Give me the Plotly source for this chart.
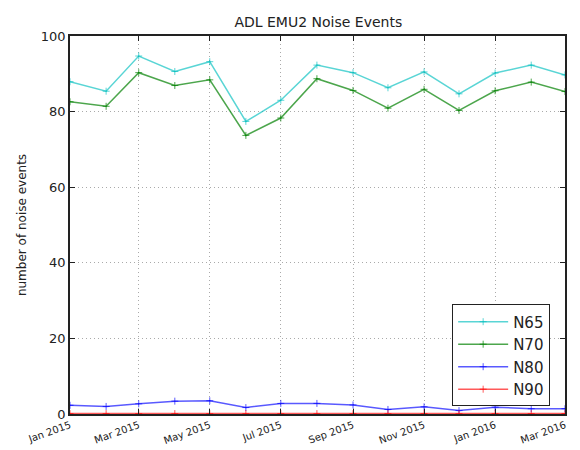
''' ADL EMU2 noise events per month '''
import plotly.graph_objects as go

#----- Data -----#

months = [
    '2015-01-01', '2015-02-01', '2015-03-01', '2015-04-01', '2015-05-01',
    '2015-06-01', '2015-07-01', '2015-08-01', '2015-09-01', '2015-10-01',
    '2015-11-01', '2015-12-01', '2016-01-01', '2016-02-01', '2016-03-01',
]
n65 = [87.9, 85.4, 94.7, 90.6, 93.2, 77.4, 83.0, 92.3, 90.3, 86.3, 90.5, 84.7, 90.2, 92.3, 89.7]
n70 = [82.6, 81.4, 90.3, 86.9, 88.4, 73.7, 78.3, 88.7, 85.6, 80.9, 85.9, 80.3, 85.5, 87.8, 85.3]
n80 = [2.3, 2.0, 2.7, 3.4, 3.5, 1.7, 2.8, 2.8, 2.4, 1.2, 1.9, 0.9, 1.8, 1.4, 1.4]
n90 = [0.1, 0.1, 0.1, 0.1, 0.1, 0.1, 0.1, 0.1, 0.1, 0.1, 0.1, 0.1, 0.1, 0.1, 0.1]

series = [
    ('N65', n65, 'rgba(0,191,191,0.65)'),
    ('N70', n70, 'rgba(0,128,0,0.7)'),
    ('N80', n80, 'rgba(0,0,255,0.65)'),
    ('N90', n90, 'rgba(255,0,0,0.65)'),
]

#----- Figure -----#

fig = go.Figure()

for name, values, color in series:
    fig.add_trace(
        go.Scatter(
            x=months,
            y=values,
            mode='lines+markers',
            name=name,
            line=dict(color=color, width=1.5),
            marker=dict(symbol='cross-thin', size=5, color=color,
                        line=dict(width=1, color=color)),
        )
    )

## Axes
axis_style = dict(
    showgrid=True,
    gridcolor='#aaa',
    griddash='1px,3px',
    gridwidth=1,
    ticks='inside',
    ticklen=5,
    tickcolor='#222',
    showline=True,
    linecolor='#222',
    linewidth=1.5,
    mirror='ticks',
    zeroline=False,
)
fig.update_xaxes(
    range=['2015-01-01', '2016-03-01'],
    dtick='M2',
    tick0='2015-01-01',
    tickformat='%b %Y',
    tickangle=-20,
    tickfont=dict(size=10, color='#222'),
    **axis_style,
)
fig.update_yaxes(
    range=[0, 100],
    dtick=20,
    tickfont=dict(size=13, color='#222'),
    title=dict(text='number of noise events', font=dict(size=12, color='#222'),
               standoff=12),
    **axis_style,
)

## Layout
fig.update_layout(
    width=580,
    height=450,
    margin=dict(l=55, r=23, t=28, b=37),
    paper_bgcolor='white',
    plot_bgcolor='white',
    font=dict(family='DejaVu Sans', color='#222'),
    title=dict(text='ADL EMU2 Noise Events', x=0.535, xanchor='center',
               y=0.968, yanchor='middle', font=dict(size=14, color='#222')),
    legend=dict(
        x=0.97, y=0.02, xanchor='right', yanchor='bottom',
        bordercolor='#222', borderwidth=1, bgcolor='white',
        font=dict(size=15, color='#222'),
        itemwidth=50,
        tracegroupgap=2,
    ),
)

fig.write_html('out.html')
